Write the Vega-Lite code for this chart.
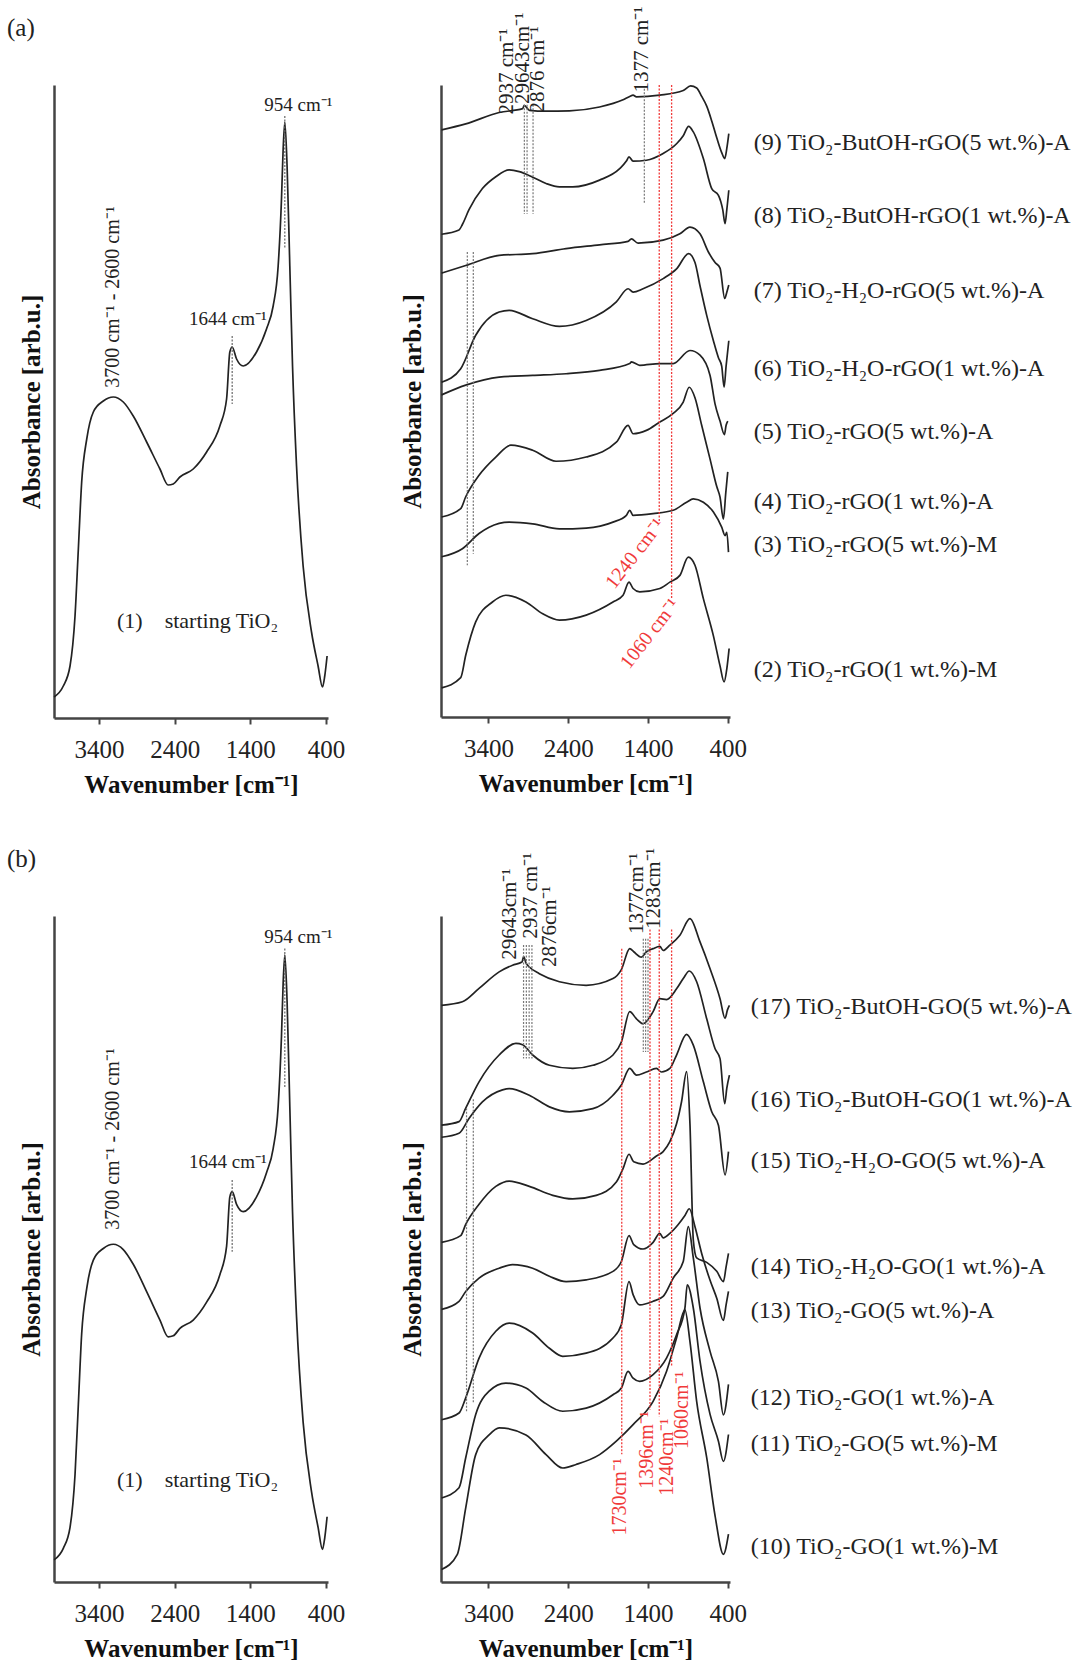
{
"$schema": "https://vega.github.io/schema/vega-lite/v6.json",
"padding": {"left": 7, "top": 6, "right": 0, "bottom": 0},
"background": "white",
"config": {
"view": {"stroke": null},
"font": "Liberation Serif",
"axis": {"grid": false, "domainColor": "#444", "domainWidth": 2.5, "tickColor": "#444", "tickWidth": 2, "labelFont": "Liberation Serif", "labelFontSize": 25, "labelColor": "#222", "titleFont": "Liberation Serif", "titleFontSize": 25, "titleFontWeight": "bold", "titleColor": "#111"},
"title": {"font": "Liberation Serif", "fontSize": 25, "fontWeight": "normal", "color": "#222", "anchor": "start", "frame": "group"},
"text": {"font": "Liberation Serif", "color": "#222"}
},
"datasets": {
"s1": [{"x":3994,"y":2.1},{"x":3872,"y":3.2},{"x":3783,"y":5.2},{"x":3717,"y":10.2},{"x":3673,"y":16.9},{"x":3629,"y":23.6},{"x":3562,"y":27.9},{"x":3475,"y":30.6},{"x":3343,"y":31.7},{"x":3211,"y":32.1},{"x":3079,"y":31.6},{"x":2947,"y":30.2},{"x":2770,"y":27.6},{"x":2594,"y":24.9},{"x":2485,"y":23.3},{"x":2418,"y":23.4},{"x":2330,"y":24.1},{"x":2154,"y":24.9},{"x":1977,"y":26.6},{"x":1802,"y":29.2},{"x":1713,"y":31.9},{"x":1670,"y":36.6},{"x":1639,"y":37.1},{"x":1581,"y":35.9},{"x":1493,"y":35.2},{"x":1317,"y":36.6},{"x":1185,"y":38.9},{"x":1097,"y":41.2},{"x":1031,"y":45.2},{"x":987,"y":51.9},{"x":965,"y":56.9},{"x":943,"y":59.6},{"x":913,"y":55.2},{"x":877,"y":45.2},{"x":841,"y":35.2},{"x":788,"y":25.2},{"x":701,"y":15.2},{"x":590,"y":8.6},{"x":503,"y":5.2},{"x":445,"y":3.1},{"x":415,"y":4.2},{"x":384,"y":6.2}],
"s2": [
{"c":"9","x":3988,"y":138.9},{"c":"9","x":3685,"y":140.3},{"c":"9","x":3266,"y":143.0},{"c":"9","x":2972,"y":143.9},{"c":"9","x":2951,"y":144.7},{"c":"9","x":2888,"y":143.5},{"c":"9","x":2678,"y":143.3},{"c":"9","x":2385,"y":143.4},{"c":"9","x":2007,"y":144.3},{"c":"9","x":1713,"y":146.0},{"c":"9","x":1629,"y":146.8},{"c":"9","x":1587,"y":147.1},{"c":"9","x":1545,"y":146.7},{"c":"9","x":1252,"y":147.1},{"c":"9","x":958,"y":148.2},{"c":"9","x":866,"y":149.3},{"c":"9","x":790,"y":148.8},{"c":"9","x":727,"y":146.8},{"c":"9","x":664,"y":144.5},{"c":"9","x":601,"y":141.0},{"c":"9","x":538,"y":137.0},{"c":"9","x":476,"y":133.5},{"c":"9","x":438,"y":132.1},{"c":"9","x":412,"y":134.5},{"c":"9","x":387,"y":138.0},
{"c":"8","x":3988,"y":114.2},{"c":"8","x":3769,"y":115.2},{"c":"8","x":3727,"y":116.5},{"c":"8","x":3644,"y":120.0},{"c":"8","x":3476,"y":125.0},{"c":"8","x":3308,"y":127.8},{"c":"8","x":3140,"y":129.4},{"c":"8","x":3014,"y":129.0},{"c":"8","x":2846,"y":127.7},{"c":"8","x":2678,"y":126.2},{"c":"8","x":2511,"y":125.4},{"c":"8","x":2343,"y":125.4},{"c":"8","x":2007,"y":127.0},{"c":"8","x":1755,"y":129.7},{"c":"8","x":1671,"y":131.5},{"c":"8","x":1638,"y":132.5},{"c":"8","x":1587,"y":131.5},{"c":"8","x":1420,"y":131.7},{"c":"8","x":1210,"y":133.3},{"c":"8","x":1042,"y":135.6},{"c":"8","x":958,"y":137.5},{"c":"8","x":891,"y":139.7},{"c":"8","x":832,"y":138.4},{"c":"8","x":706,"y":132.1},{"c":"8","x":601,"y":125.0},{"c":"8","x":517,"y":123.4},{"c":"8","x":463,"y":120.0},{"c":"8","x":434,"y":116.7},{"c":"8","x":412,"y":120.0},{"c":"8","x":387,"y":124.6},
{"c":"7","x":3988,"y":105.0},{"c":"7","x":3685,"y":106.8},{"c":"7","x":3266,"y":109.2},{"c":"7","x":2846,"y":109.6},{"c":"7","x":2427,"y":110.8},{"c":"7","x":2007,"y":111.7},{"c":"7","x":1650,"y":112.5},{"c":"7","x":1608,"y":113.1},{"c":"7","x":1525,"y":112.1},{"c":"7","x":1210,"y":112.8},{"c":"7","x":1000,"y":114.3},{"c":"7","x":874,"y":115.9},{"c":"7","x":748,"y":114.3},{"c":"7","x":643,"y":110.0},{"c":"7","x":559,"y":107.5},{"c":"7","x":497,"y":106.2},{"c":"7","x":438,"y":99.0},{"c":"7","x":412,"y":100.5},{"c":"7","x":387,"y":102.2},
{"c":"6","x":3988,"y":79.2},{"c":"6","x":3748,"y":82.4},{"c":"6","x":3560,"y":90.3},{"c":"6","x":3266,"y":95.8},{"c":"6","x":3140,"y":96.2},{"c":"6","x":2846,"y":94.2},{"c":"6","x":2511,"y":92.4},{"c":"6","x":2175,"y":93.8},{"c":"6","x":1797,"y":98.2},{"c":"6","x":1650,"y":101.3},{"c":"6","x":1587,"y":100.5},{"c":"6","x":1462,"y":101.3},{"c":"6","x":1210,"y":103.7},{"c":"6","x":1042,"y":106.0},{"c":"6","x":891,"y":109.6},{"c":"6","x":811,"y":107.5},{"c":"6","x":748,"y":102.0},{"c":"6","x":664,"y":95.0},{"c":"6","x":580,"y":89.0},{"c":"6","x":517,"y":85.0},{"c":"6","x":476,"y":83.0},{"c":"6","x":446,"y":78.0},{"c":"6","x":421,"y":83.0},{"c":"6","x":387,"y":89.0},
{"c":"5","x":3988,"y":76.2},{"c":"5","x":3685,"y":78.5},{"c":"5","x":3266,"y":80.4},{"c":"5","x":2846,"y":80.8},{"c":"5","x":2427,"y":81.2},{"c":"5","x":2007,"y":82.0},{"c":"5","x":1629,"y":83.6},{"c":"5","x":1608,"y":84.0},{"c":"5","x":1504,"y":83.2},{"c":"5","x":1252,"y":83.6},{"c":"5","x":1084,"y":83.6},{"c":"5","x":874,"y":86.7},{"c":"5","x":748,"y":85.6},{"c":"5","x":622,"y":80.8},{"c":"5","x":559,"y":74.0},{"c":"5","x":497,"y":70.0},{"c":"5","x":442,"y":66.8},{"c":"5","x":421,"y":69.0},{"c":"5","x":400,"y":70.0},
{"c":"4","x":3988,"y":47.3},{"c":"4","x":3748,"y":49.3},{"c":"4","x":3685,"y":52.1},{"c":"4","x":3518,"y":57.2},{"c":"4","x":3308,"y":61.5},{"c":"4","x":3119,"y":64.3},{"c":"4","x":2846,"y":63.1},{"c":"4","x":2553,"y":60.5},{"c":"4","x":2175,"y":61.5},{"c":"4","x":1797,"y":65.0},{"c":"4","x":1650,"y":69.0},{"c":"4","x":1587,"y":67.0},{"c":"4","x":1420,"y":67.8},{"c":"4","x":1252,"y":69.8},{"c":"4","x":1084,"y":71.8},{"c":"4","x":958,"y":74.5},{"c":"4","x":883,"y":78.0},{"c":"4","x":811,"y":75.5},{"c":"4","x":727,"y":69.0},{"c":"4","x":622,"y":61.0},{"c":"4","x":538,"y":54.5},{"c":"4","x":497,"y":52.0},{"c":"4","x":455,"y":46.8},{"c":"4","x":425,"y":53.0},{"c":"4","x":400,"y":58.0},
{"c":"3","x":3988,"y":37.9},{"c":"3","x":3727,"y":39.8},{"c":"3","x":3518,"y":43.4},{"c":"3","x":3392,"y":44.9},{"c":"3","x":3140,"y":46.1},{"c":"3","x":2846,"y":45.7},{"c":"3","x":2511,"y":44.5},{"c":"3","x":2175,"y":44.7},{"c":"3","x":1839,"y":46.1},{"c":"3","x":1671,"y":47.7},{"c":"3","x":1629,"y":48.9},{"c":"3","x":1587,"y":47.7},{"c":"3","x":1336,"y":48.1},{"c":"3","x":1084,"y":48.9},{"c":"3","x":916,"y":50.8},{"c":"3","x":832,"y":51.6},{"c":"3","x":706,"y":50.8},{"c":"3","x":580,"y":48.5},{"c":"3","x":476,"y":44.9},{"c":"3","x":434,"y":42.9},{"c":"3","x":412,"y":43.7},{"c":"3","x":391,"y":39.0},
{"c":"2","x":3988,"y":6.9},{"c":"2","x":3748,"y":9.3},{"c":"2","x":3685,"y":14.6},{"c":"2","x":3560,"y":22.5},{"c":"2","x":3350,"y":27.2},{"c":"2","x":3182,"y":28.8},{"c":"2","x":2930,"y":27.2},{"c":"2","x":2720,"y":24.4},{"c":"2","x":2511,"y":22.9},{"c":"2","x":2175,"y":24.1},{"c":"2","x":1839,"y":27.2},{"c":"2","x":1713,"y":28.8},{"c":"2","x":1638,"y":31.9},{"c":"2","x":1587,"y":30.4},{"c":"2","x":1504,"y":29.6},{"c":"2","x":1252,"y":30.4},{"c":"2","x":1126,"y":31.9},{"c":"2","x":1000,"y":33.5},{"c":"2","x":895,"y":37.8},{"c":"2","x":811,"y":35.9},{"c":"2","x":706,"y":28.0},{"c":"2","x":580,"y":19.2},{"c":"2","x":497,"y":12.1},{"c":"2","x":446,"y":8.3},{"c":"2","x":412,"y":11.4},{"c":"2","x":383,"y":16.2}
],
"s3": [
{"c":"17","x":3988,"y":129.0},{"c":"17","x":3727,"y":129.8},{"c":"17","x":3518,"y":132.8},{"c":"17","x":3266,"y":136.5},{"c":"17","x":3098,"y":138.0},{"c":"17","x":2980,"y":138.7},{"c":"17","x":2959,"y":139.9},{"c":"17","x":2930,"y":138.5},{"c":"17","x":2888,"y":137.6},{"c":"17","x":2762,"y":136.1},{"c":"17","x":2511,"y":134.3},{"c":"17","x":2175,"y":133.5},{"c":"17","x":1839,"y":135.0},{"c":"17","x":1734,"y":137.0},{"c":"17","x":1629,"y":141.7},{"c":"17","x":1579,"y":141.0},{"c":"17","x":1483,"y":139.8},{"c":"17","x":1420,"y":141.0},{"c":"17","x":1336,"y":141.7},{"c":"17","x":1252,"y":142.2},{"c":"17","x":1210,"y":141.3},{"c":"17","x":1126,"y":142.5},{"c":"17","x":1000,"y":144.7},{"c":"17","x":874,"y":148.4},{"c":"17","x":748,"y":143.2},{"c":"17","x":622,"y":137.2},{"c":"17","x":497,"y":130.5},{"c":"17","x":434,"y":126.1},{"c":"17","x":404,"y":128.0},{"c":"17","x":379,"y":129.0},
{"c":"16","x":3988,"y":102.2},{"c":"16","x":3769,"y":103.0},{"c":"16","x":3685,"y":106.0},{"c":"16","x":3518,"y":111.9},{"c":"16","x":3266,"y":117.9},{"c":"16","x":3056,"y":120.5},{"c":"16","x":2972,"y":120.2},{"c":"16","x":2846,"y":117.9},{"c":"16","x":2636,"y":115.6},{"c":"16","x":2343,"y":114.9},{"c":"16","x":2091,"y":115.6},{"c":"16","x":1839,"y":117.9},{"c":"16","x":1734,"y":120.8},{"c":"16","x":1629,"y":127.6},{"c":"16","x":1545,"y":126.0},{"c":"16","x":1462,"y":124.9},{"c":"16","x":1336,"y":127.6},{"c":"16","x":1252,"y":130.5},{"c":"16","x":1168,"y":130.3},{"c":"16","x":1042,"y":132.7},{"c":"16","x":958,"y":135.0},{"c":"16","x":882,"y":136.7},{"c":"16","x":790,"y":134.3},{"c":"16","x":664,"y":126.0},{"c":"16","x":559,"y":119.3},{"c":"16","x":497,"y":117.1},{"c":"16","x":438,"y":107.0},{"c":"16","x":412,"y":110.5},{"c":"16","x":379,"y":113.4},
{"c":"15","x":3988,"y":99.5},{"c":"15","x":3769,"y":100.4},{"c":"15","x":3644,"y":103.7},{"c":"15","x":3476,"y":107.4},{"c":"15","x":3224,"y":110.1},{"c":"15","x":3140,"y":110.4},{"c":"15","x":2888,"y":108.9},{"c":"15","x":2636,"y":106.3},{"c":"15","x":2385,"y":105.2},{"c":"15","x":2091,"y":105.9},{"c":"15","x":1839,"y":108.9},{"c":"15","x":1734,"y":111.2},{"c":"15","x":1629,"y":114.9},{"c":"15","x":1545,"y":113.4},{"c":"15","x":1420,"y":114.1},{"c":"15","x":1294,"y":114.9},{"c":"15","x":1231,"y":114.1},{"c":"15","x":1126,"y":114.9},{"c":"15","x":1042,"y":117.9},{"c":"15","x":916,"y":122.5},{"c":"15","x":832,"y":120.1},{"c":"15","x":706,"y":111.9},{"c":"15","x":601,"y":105.2},{"c":"15","x":517,"y":102.2},{"c":"15","x":434,"y":91.1},{"c":"15","x":391,"y":96.3},
{"c":"14","x":3988,"y":76.0},{"c":"14","x":3748,"y":77.5},{"c":"14","x":3685,"y":80.0},{"c":"14","x":3518,"y":84.5},{"c":"14","x":3308,"y":88.5},{"c":"14","x":3140,"y":89.7},{"c":"14","x":2888,"y":88.5},{"c":"14","x":2594,"y":86.5},{"c":"14","x":2343,"y":85.7},{"c":"14","x":2049,"y":86.5},{"c":"14","x":1797,"y":89.5},{"c":"14","x":1713,"y":92.5},{"c":"14","x":1638,"y":95.7},{"c":"14","x":1579,"y":94.0},{"c":"14","x":1462,"y":93.5},{"c":"14","x":1294,"y":95.3},{"c":"14","x":1210,"y":96.3},{"c":"14","x":1126,"y":98.5},{"c":"14","x":1042,"y":102.5},{"c":"14","x":979,"y":107.5},{"c":"14","x":916,"y":114.2},{"c":"14","x":874,"y":102.5},{"c":"14","x":832,"y":76.5},{"c":"14","x":790,"y":72.5},{"c":"14","x":664,"y":71.5},{"c":"14","x":538,"y":69.5},{"c":"14","x":455,"y":67.2},{"c":"14","x":421,"y":70.5},{"c":"14","x":391,"y":73.5},
{"c":"13","x":3988,"y":61.0},{"c":"13","x":3769,"y":62.8},{"c":"13","x":3685,"y":65.0},{"c":"13","x":3518,"y":68.0},{"c":"13","x":3266,"y":70.2},{"c":"13","x":3098,"y":71.0},{"c":"13","x":2846,"y":70.2},{"c":"13","x":2636,"y":68.4},{"c":"13","x":2427,"y":67.2},{"c":"13","x":2175,"y":67.6},{"c":"13","x":1839,"y":69.5},{"c":"13","x":1734,"y":71.7},{"c":"13","x":1638,"y":77.5},{"c":"13","x":1579,"y":75.5},{"c":"13","x":1462,"y":74.5},{"c":"13","x":1336,"y":76.0},{"c":"13","x":1252,"y":78.0},{"c":"13","x":1210,"y":77.0},{"c":"13","x":1126,"y":78.0},{"c":"13","x":1021,"y":80.0},{"c":"13","x":937,"y":82.0},{"c":"13","x":882,"y":83.5},{"c":"13","x":811,"y":79.5},{"c":"13","x":727,"y":73.5},{"c":"13","x":622,"y":67.5},{"c":"13","x":538,"y":63.5},{"c":"13","x":455,"y":58.5},{"c":"13","x":421,"y":62.0},{"c":"13","x":391,"y":65.0},
{"c":"12","x":3988,"y":36.3},{"c":"12","x":3769,"y":37.8},{"c":"12","x":3685,"y":41.2},{"c":"12","x":3518,"y":50.1},{"c":"12","x":3308,"y":56.1},{"c":"12","x":3140,"y":57.9},{"c":"12","x":2846,"y":55.7},{"c":"12","x":2636,"y":52.3},{"c":"12","x":2469,"y":50.5},{"c":"12","x":2175,"y":51.2},{"c":"12","x":1839,"y":54.6},{"c":"12","x":1734,"y":57.6},{"c":"12","x":1638,"y":67.2},{"c":"12","x":1587,"y":64.3},{"c":"12","x":1504,"y":62.0},{"c":"12","x":1336,"y":62.8},{"c":"12","x":1210,"y":63.9},{"c":"12","x":1084,"y":68.0},{"c":"12","x":958,"y":71.7},{"c":"12","x":895,"y":79.5},{"c":"12","x":832,"y":72.5},{"c":"12","x":748,"y":61.3},{"c":"12","x":622,"y":51.6},{"c":"12","x":517,"y":44.9},{"c":"12","x":455,"y":37.4},{"c":"12","x":391,"y":44.2},
{"c":"11","x":3988,"y":18.8},{"c":"11","x":3769,"y":21.1},{"c":"11","x":3685,"y":27.8},{"c":"11","x":3560,"y":37.5},{"c":"11","x":3392,"y":42.7},{"c":"11","x":3182,"y":44.5},{"c":"11","x":2930,"y":43.4},{"c":"11","x":2720,"y":40.4},{"c":"11","x":2469,"y":38.2},{"c":"11","x":2175,"y":38.9},{"c":"11","x":1839,"y":41.9},{"c":"11","x":1734,"y":43.4},{"c":"11","x":1650,"y":47.1},{"c":"11","x":1587,"y":45.6},{"c":"11","x":1504,"y":44.9},{"c":"11","x":1336,"y":46.4},{"c":"11","x":1168,"y":50.1},{"c":"11","x":1042,"y":55.3},{"c":"11","x":937,"y":61.3},{"c":"11","x":908,"y":66.5},{"c":"11","x":832,"y":61.3},{"c":"11","x":748,"y":49.4},{"c":"11","x":622,"y":37.5},{"c":"11","x":517,"y":31.5},{"c":"11","x":455,"y":27.0},{"c":"11","x":391,"y":33.0},
{"c":"10","x":3988,"y":2.8},{"c":"10","x":3790,"y":6.2},{"c":"10","x":3685,"y":16.6},{"c":"10","x":3560,"y":28.5},{"c":"10","x":3392,"y":32.9},{"c":"10","x":3266,"y":34.5},{"c":"10","x":2930,"y":32.9},{"c":"10","x":2678,"y":28.5},{"c":"10","x":2469,"y":25.5},{"c":"10","x":2301,"y":26.3},{"c":"10","x":2007,"y":28.5},{"c":"10","x":1797,"y":31.5},{"c":"10","x":1587,"y":35.2},{"c":"10","x":1336,"y":40.4},{"c":"10","x":1168,"y":47.1},{"c":"10","x":1042,"y":54.6},{"c":"10","x":937,"y":60.9},{"c":"10","x":874,"y":53.8},{"c":"10","x":790,"y":40.4},{"c":"10","x":664,"y":27.8},{"c":"10","x":559,"y":14.8},{"c":"10","x":455,"y":6.2},{"c":"10","x":391,"y":10.7}
],
"r1": [{"x":1639,"y":38.2,"y2":31.4},{"x":943,"y":60.2,"y2":46.9}],
"r2g": [{"x":2950,"y":144.8,"y2":119},{"x":2916,"y":144.8,"y2":119},{"x":2841,"y":144.8,"y2":119},{"x":1446,"y":148.6,"y2":121.4},{"x":3665,"y":110,"y2":35.9},{"x":3590,"y":110,"y2":38.6}],
"r2r": [{"x":1259,"y":149.5,"y2":46.1},{"x":1104,"y":149.5,"y2":28}],
"r3g": [{"x":2960,"y":142.5,"y2":117.1},{"x":2925,"y":142.5,"y2":117.1},{"x":2890,"y":142.5,"y2":117.1},{"x":2855,"y":142.5,"y2":117.1},{"x":1459,"y":143.9,"y2":118.6},{"x":1430,"y":143.9,"y2":118.6},{"x":1400,"y":143.9,"y2":118.6},{"x":3675,"y":106,"y2":38},{"x":3590,"y":108,"y2":40}],
"r3r": [{"x":1729,"y":141.7,"y2":28.6},{"x":1375,"y":146,"y2":38.6},{"x":1259,"y":146,"y2":37.1},{"x":1104,"y":146,"y2":48.3}],
"t1": [{"x":765,"y":61.3,"t":"954 cm⁻¹"},{"x":1696,"y":39.9,"t":"1644 cm⁻¹"}],
"t1a": [{"x":3162,"y":9.7,"t":"(1)\u00a0\u00a0\u00a0\u00a0starting TiO₂"}],
"t1v": [{"x":3215,"y":42.1,"t":"3700 cm⁻¹ - 2600 cm⁻¹"}],
"t2lab": [{"x":75,"y":135.7,"t":"(9) TiO₂-ButOH-rGO(5 wt.%)-A"},{"x":75,"y":118.5,"t":"(8) TiO₂-ButOH-rGO(1 wt.%)-A"},{"x":75,"y":100.7,"t":"(7) TiO₂-H₂O-rGO(5 wt.%)-A"},{"x":75,"y":82.3,"t":"(6) TiO₂-H₂O-rGO(1 wt.%)-A"},{"x":75,"y":67.5,"t":"(5) TiO₂-rGO(5 wt.%)-A"},{"x":75,"y":50.9,"t":"(4) TiO₂-rGO(1 wt.%)-A"},{"x":75,"y":40.8,"t":"(3) TiO₂-rGO(5 wt.%)-M"},{"x":75,"y":11.1,"t":"(2) TiO₂-rGO(1 wt.%)-M"}],
"t2top": [{"x":3162,"y":142.5,"t":"2937 cm⁻¹"},{"x":2962,"y":145,"t":"29643cm⁻¹"},{"x":2775,"y":143,"t":"2876 cm⁻¹"},{"x":1475,"y":147.7,"t":"1377 cm⁻¹"}],
"t2red": [{"x":1562,"y":38.6,"t":"1240 cm⁻¹"},{"x":1375,"y":19.7,"t":"1060 cm⁻¹"}],
"t3lab": [{"x":112,"y":128.7,"t":"(17) TiO₂-ButOH-GO(5 wt.%)-A"},{"x":112,"y":107.8,"t":"(16) TiO₂-ButOH-GO(1 wt.%)-A"},{"x":112,"y":94.2,"t":"(15) TiO₂-H₂O-GO(5 wt.%)-A"},{"x":112,"y":70.5,"t":"(14) TiO₂-H₂O-GO(1 wt.%)-A"},{"x":112,"y":60.7,"t":"(13) TiO₂-GO(5 wt.%)-A"},{"x":112,"y":41.2,"t":"(12) TiO₂-GO(1 wt.%)-A"},{"x":112,"y":30.8,"t":"(11) TiO₂-GO(5 wt.%)-M"},{"x":112,"y":7.8,"t":"(10) TiO₂-GO(1 wt.%)-M"}],
"t3top": [{"x":3125,"y":139.2,"t":"29643cm⁻¹"},{"x":2866,"y":143.9,"t":"2937 cm⁻¹"},{"x":2625,"y":137.6,"t":"2876cm⁻¹"},{"x":1541,"y":145,"t":"1377cm⁻¹"},{"x":1325,"y":146.1,"t":"1283cm⁻¹"}],
"t3red": [{"x":1750,"y":27.7,"t":"1730cm⁻¹"},{"x":1416,"y":38.2,"t":"1396cm⁻¹"},{"x":1166,"y":36.6,"t":"1240cm⁻¹"},{"x":979,"y":47.1,"t":"1060cm⁻¹"}]
},
"columns": 2,
"bounds": "flush",
"spacing": {"row": 198, "column": 113},
"concat": [
{"width": 274, "height": 633,
"title": {"text": "(a)", "dx": -47, "offset": 19, "baseline": "bottom"},
"layer": [
{"data": {"name": "s1"}, "mark": {"type": "line", "color": "#222", "strokeWidth": 1.7, "interpolate": "monotone"},
"encoding": {"x": {"field":"x","type":"quantitative","title":"Wavenumber [cm⁻¹]","scale":{"domain":[3995,372],"nice":false,"zero":false},"axis":{"values":[3400,2400,1400,400],"format":"d","tickSize":6,"labelPadding":13,"labelFlush":false,"labelOverlap":false,"titlePadding":10}},
"y": {"field":"y","type":"quantitative","title":"Absorbance [arb.u.]","scale":{"domain":[0,63.3],"nice":false,"zero":false},"axis":{"ticks":false,"labels":false,"titlePadding":10}}}},
{"data": {"name": "r1"}, "mark": {"type": "rule", "color": "#666", "strokeWidth": 1.2, "strokeDash": [2, 1.5]},
"encoding": {"x": {"field":"x","type":"quantitative","title":"Wavenumber [cm⁻¹]","scale":{"domain":[3995,372],"nice":false,"zero":false}},
"y": {"field":"y","type":"quantitative","title":"Absorbance [arb.u.]","scale":{"domain":[0,63.3],"nice":false,"zero":false}}, "y2": {"field": "y2"}}},
{"data": {"name": "t1"}, "mark": {"type": "text", "fontSize": 19, "align": "center", "baseline": "middle"},
"encoding": {"x": {"field":"x","type":"quantitative","title":"Wavenumber [cm⁻¹]","scale":{"domain":[3995,372],"nice":false,"zero":false}},
"y": {"field":"y","type":"quantitative","title":"Absorbance [arb.u.]","scale":{"domain":[0,63.3],"nice":false,"zero":false}}, "text": {"field": "t"}}},
{"data": {"name": "t1a"}, "mark": {"type": "text", "fontSize": 22, "align": "left", "baseline": "middle"},
"encoding": {"x": {"field":"x","type":"quantitative","title":"Wavenumber [cm⁻¹]","scale":{"domain":[3995,372],"nice":false,"zero":false}},
"y": {"field":"y","type":"quantitative","title":"Absorbance [arb.u.]","scale":{"domain":[0,63.3],"nice":false,"zero":false}}, "text": {"field": "t"}}},
{"data": {"name": "t1v"}, "mark": {"type": "text", "fontSize": 20, "angle": 270, "align": "center", "baseline": "middle"},
"encoding": {"x": {"field":"x","type":"quantitative","title":"Wavenumber [cm⁻¹]","scale":{"domain":[3995,372],"nice":false,"zero":false}},
"y": {"field":"y","type":"quantitative","title":"Absorbance [arb.u.]","scale":{"domain":[0,63.3],"nice":false,"zero":false}}, "text": {"field": "t"}}}
]},
{"width": 289, "height": 632,
"layer": [
{"data": {"name": "s2"}, "mark": {"type": "line", "color": "#222", "strokeWidth": 1.7, "interpolate": "monotone"},
"encoding": {"x": {"field":"x","type":"quantitative","title":"Wavenumber [cm⁻¹]","scale":{"domain":[3995,372],"nice":false,"zero":false},"axis":{"values":[3400,2400,1400,400],"format":"d","tickSize":6,"labelPadding":13,"labelFlush":false,"labelOverlap":false,"titlePadding":10}},
"y": {"field":"y","type":"quantitative","title":"Absorbance [arb.u.]","scale":{"domain":[0,149.5],"nice":false,"zero":false},"axis":{"ticks":false,"labels":false,"titlePadding":16}},
"detail": {"field": "c"}}},
{"data": {"name": "r2g"}, "mark": {"type": "rule", "color": "#777", "strokeWidth": 1.2, "strokeDash": [2, 1.5]},
"encoding": {"x": {"field":"x","type":"quantitative","title":"Wavenumber [cm⁻¹]","scale":{"domain":[3995,372],"nice":false,"zero":false}},
"y": {"field":"y","type":"quantitative","title":"Absorbance [arb.u.]","scale":{"domain":[0,149.5],"nice":false,"zero":false}}, "y2": {"field": "y2"}}},
{"data": {"name": "r2r"}, "mark": {"type": "rule", "color": "#f03a3a", "strokeWidth": 1.3, "strokeDash": [2, 1.5]},
"encoding": {"x": {"field":"x","type":"quantitative","title":"Wavenumber [cm⁻¹]","scale":{"domain":[3995,372],"nice":false,"zero":false}},
"y": {"field":"y","type":"quantitative","title":"Absorbance [arb.u.]","scale":{"domain":[0,149.5],"nice":false,"zero":false}}, "y2": {"field": "y2"}}},
{"data": {"name": "t2lab"}, "mark": {"type": "text", "fontSize": 24, "align": "left", "baseline": "middle"},
"encoding": {"x": {"field":"x","type":"quantitative","title":"Wavenumber [cm⁻¹]","scale":{"domain":[3995,372],"nice":false,"zero":false}},
"y": {"field":"y","type":"quantitative","title":"Absorbance [arb.u.]","scale":{"domain":[0,149.5],"nice":false,"zero":false}}, "text": {"field": "t"}}},
{"data": {"name": "t2top"}, "mark": {"type": "text", "fontSize": 21, "angle": 270, "align": "left", "baseline": "middle"},
"encoding": {"x": {"field":"x","type":"quantitative","title":"Wavenumber [cm⁻¹]","scale":{"domain":[3995,372],"nice":false,"zero":false}},
"y": {"field":"y","type":"quantitative","title":"Absorbance [arb.u.]","scale":{"domain":[0,149.5],"nice":false,"zero":false}}, "text": {"field": "t"}}},
{"data": {"name": "t2red"}, "mark": {"type": "text", "fontSize": 20, "angle": 308, "align": "center", "baseline": "middle", "color": "#f03a3a"},
"encoding": {"x": {"field":"x","type":"quantitative","title":"Wavenumber [cm⁻¹]","scale":{"domain":[3995,372],"nice":false,"zero":false}},
"y": {"field":"y","type":"quantitative","title":"Absorbance [arb.u.]","scale":{"domain":[0,149.5],"nice":false,"zero":false}}, "text": {"field": "t"}}}
]},
{"width": 274, "height": 666,
"title": {"text": "(b)", "dx": -47, "offset": 19, "baseline": "bottom"},
"layer": [
{"data": {"name": "s1"}, "mark": {"type": "line", "color": "#222", "strokeWidth": 1.7, "interpolate": "monotone"},
"encoding": {"x": {"field":"x","type":"quantitative","title":"Wavenumber [cm⁻¹]","scale":{"domain":[3995,372],"nice":false,"zero":false},"axis":{"values":[3400,2400,1400,400],"format":"d","tickSize":6,"labelPadding":13,"labelFlush":false,"labelOverlap":false,"titlePadding":10}},
"y": {"field":"y","type":"quantitative","title":"Absorbance [arb.u.]","scale":{"domain":[0,63.3],"nice":false,"zero":false},"axis":{"ticks":false,"labels":false,"titlePadding":10}}}},
{"data": {"name": "r1"}, "mark": {"type": "rule", "color": "#666", "strokeWidth": 1.2, "strokeDash": [2, 1.5]},
"encoding": {"x": {"field":"x","type":"quantitative","title":"Wavenumber [cm⁻¹]","scale":{"domain":[3995,372],"nice":false,"zero":false}},
"y": {"field":"y","type":"quantitative","title":"Absorbance [arb.u.]","scale":{"domain":[0,63.3],"nice":false,"zero":false}}, "y2": {"field": "y2"}}},
{"data": {"name": "t1"}, "mark": {"type": "text", "fontSize": 19, "align": "center", "baseline": "middle"},
"encoding": {"x": {"field":"x","type":"quantitative","title":"Wavenumber [cm⁻¹]","scale":{"domain":[3995,372],"nice":false,"zero":false}},
"y": {"field":"y","type":"quantitative","title":"Absorbance [arb.u.]","scale":{"domain":[0,63.3],"nice":false,"zero":false}}, "text": {"field": "t"}}},
{"data": {"name": "t1a"}, "mark": {"type": "text", "fontSize": 22, "align": "left", "baseline": "middle"},
"encoding": {"x": {"field":"x","type":"quantitative","title":"Wavenumber [cm⁻¹]","scale":{"domain":[3995,372],"nice":false,"zero":false}},
"y": {"field":"y","type":"quantitative","title":"Absorbance [arb.u.]","scale":{"domain":[0,63.3],"nice":false,"zero":false}}, "text": {"field": "t"}}},
{"data": {"name": "t1v"}, "mark": {"type": "text", "fontSize": 20, "angle": 270, "align": "center", "baseline": "middle"},
"encoding": {"x": {"field":"x","type":"quantitative","title":"Wavenumber [cm⁻¹]","scale":{"domain":[3995,372],"nice":false,"zero":false}},
"y": {"field":"y","type":"quantitative","title":"Absorbance [arb.u.]","scale":{"domain":[0,63.3],"nice":false,"zero":false}}, "text": {"field": "t"}}}
]},
{"width": 289, "height": 666,
"layer": [
{"data": {"name": "s3"}, "mark": {"type": "line", "color": "#222", "strokeWidth": 1.7, "interpolate": "monotone"},
"encoding": {"x": {"field":"x","type":"quantitative","title":"Wavenumber [cm⁻¹]","scale":{"domain":[3995,372],"nice":false,"zero":false},"axis":{"values":[3400,2400,1400,400],"format":"d","tickSize":6,"labelPadding":13,"labelFlush":false,"labelOverlap":false,"titlePadding":10}},
"y": {"field":"y","type":"quantitative","title":"Absorbance [arb.u.]","scale":{"domain":[0,149],"nice":false,"zero":false},"axis":{"ticks":false,"labels":false,"titlePadding":16}},
"detail": {"field": "c"}}},
{"data": {"name": "r3g"}, "mark": {"type": "rule", "color": "#777", "strokeWidth": 1.2, "strokeDash": [2, 1.5]},
"encoding": {"x": {"field":"x","type":"quantitative","title":"Wavenumber [cm⁻¹]","scale":{"domain":[3995,372],"nice":false,"zero":false}},
"y": {"field":"y","type":"quantitative","title":"Absorbance [arb.u.]","scale":{"domain":[0,149],"nice":false,"zero":false}}, "y2": {"field": "y2"}}},
{"data": {"name": "r3r"}, "mark": {"type": "rule", "color": "#f03a3a", "strokeWidth": 1.3, "strokeDash": [2, 1.5]},
"encoding": {"x": {"field":"x","type":"quantitative","title":"Wavenumber [cm⁻¹]","scale":{"domain":[3995,372],"nice":false,"zero":false}},
"y": {"field":"y","type":"quantitative","title":"Absorbance [arb.u.]","scale":{"domain":[0,149],"nice":false,"zero":false}}, "y2": {"field": "y2"}}},
{"data": {"name": "t3lab"}, "mark": {"type": "text", "fontSize": 24, "align": "left", "baseline": "middle"},
"encoding": {"x": {"field":"x","type":"quantitative","title":"Wavenumber [cm⁻¹]","scale":{"domain":[3995,372],"nice":false,"zero":false}},
"y": {"field":"y","type":"quantitative","title":"Absorbance [arb.u.]","scale":{"domain":[0,149],"nice":false,"zero":false}}, "text": {"field": "t"}}},
{"data": {"name": "t3top"}, "mark": {"type": "text", "fontSize": 21, "angle": 270, "align": "left", "baseline": "middle"},
"encoding": {"x": {"field":"x","type":"quantitative","title":"Wavenumber [cm⁻¹]","scale":{"domain":[3995,372],"nice":false,"zero":false}},
"y": {"field":"y","type":"quantitative","title":"Absorbance [arb.u.]","scale":{"domain":[0,149],"nice":false,"zero":false}}, "text": {"field": "t"}}},
{"data": {"name": "t3red"}, "mark": {"type": "text", "fontSize": 20, "angle": 270, "align": "right", "baseline": "middle", "color": "#f03a3a"},
"encoding": {"x": {"field":"x","type":"quantitative","title":"Wavenumber [cm⁻¹]","scale":{"domain":[3995,372],"nice":false,"zero":false}},
"y": {"field":"y","type":"quantitative","title":"Absorbance [arb.u.]","scale":{"domain":[0,149],"nice":false,"zero":false}}, "text": {"field": "t"}}}
]}
]
}
